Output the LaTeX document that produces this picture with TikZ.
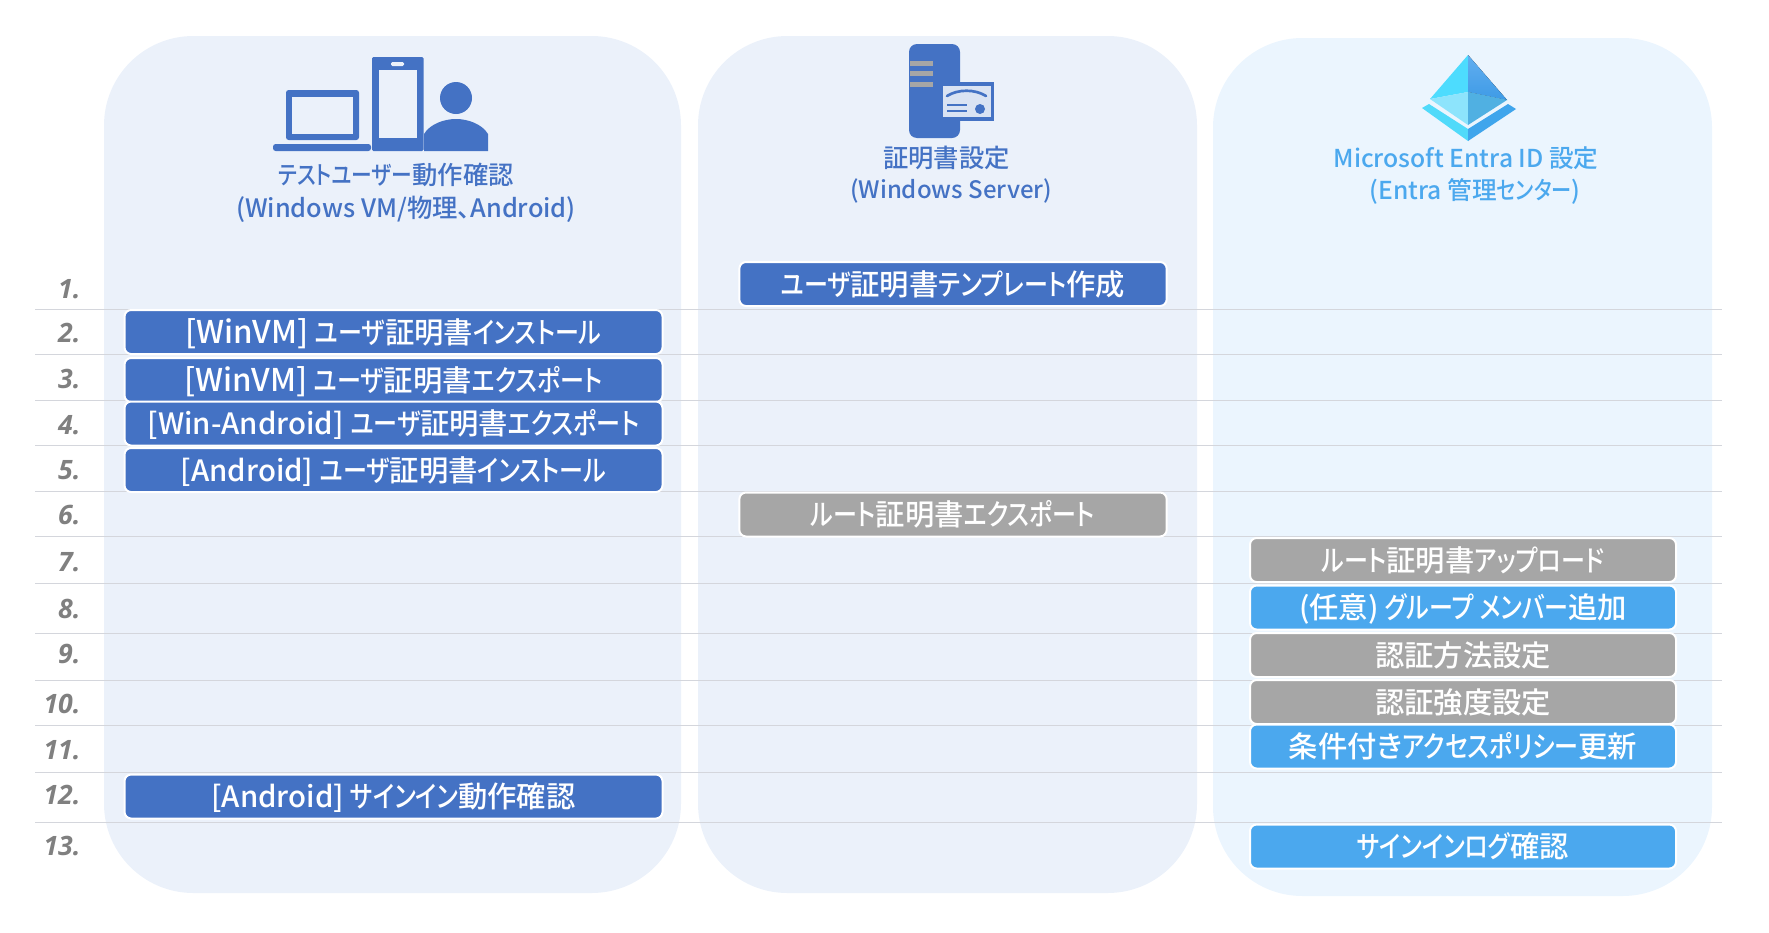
\documentclass[tikz,border=0pt]{standalone}
\usepackage{fontspec}
\setmainfont[RawFeature=+palt]{Noto Sans CJK JP Medium}
\newfontfamily\kanafont[RawFeature=+palt,FakeStretch=0.82]{Noto Sans CJK JP Medium}
\newfontfamily\numfont{Open Sans}
\newcommand{\kn}[1]{{\kanafont #1}}
\newcommand{\lat}[1]{{\fontsize{23.5}{26}\selectfont #1}}

\definecolor{panelblue}{HTML}{EBF1FA}
\definecolor{panelsky}{HTML}{EBF5FE}
\definecolor{serverblue}{HTML}{4472C4}
\definecolor{entrablue}{HTML}{4BA8EE}
\definecolor{stepgrey}{HTML}{A6A6A6}
\definecolor{rulegrey}{HTML}{D4D6DC}
\definecolor{certface}{HTML}{DAE3F3}
\definecolor{prismtl}{HTML}{4DDCFE}
\definecolor{prismtrup}{HTML}{62AEF0}
\definecolor{prismtrlow}{HTML}{3E9BE6}
\definecolor{prismll}{HTML}{8DE4FC}
\definecolor{prismlr}{HTML}{50B0E2}
\definecolor{prismbl}{HTML}{50DAFA}
\definecolor{prismbr}{HTML}{3FA5EC}

\tikzset{
panelbox/.style={rounded corners=67pt},
stepbox/.style={draw=white, line width=1.5pt, rounded corners=5pt, inner sep=0pt,
  minimum height=33pt, text height=19.4pt, text depth=2.6pt, text=white,
  font=\fontsize{22}{26}\selectfont},
userstep/.style={stepbox, fill=serverblue, minimum width=403.5pt},
certstep/.style={stepbox, fill=serverblue, minimum width=320.5pt},
rootstep/.style={stepbox, fill=stepgrey, minimum width=320.5pt},
greystep/.style={stepbox, fill=stepgrey, minimum width=319.5pt},
entrastep/.style={stepbox, fill=entrablue, minimum width=319.5pt},
headlabel/.style={inner sep=0pt, font=\fontsize{19}{23}\selectfont},
sublabel/.style={inner sep=0pt, font=\fontsize{18.5}{23}\selectfont},
numlabel/.style={anchor=east, inner sep=0pt, text=black!50, font=\numfont\bfseries\itshape\fontsize{20}{24}\selectfont}
}
\tikzset{every picture/.style={line width=0.75pt}}

\begin{document}
\begin{tikzpicture}[x=0.75pt,y=0.75pt,yscale=-1,xscale=1]

\useasboundingbox (0,0) rectangle (1769,932);

% PANELS

\fill [panelblue, panelbox] (104,36) rectangle (681,893);
\fill [panelblue, panelbox] (698,36) rectangle (1197,893);
\fill [panelsky, panelbox] (1213,38) rectangle (1712,896);

% RULES

\foreach \y in {309,354,400,445,491,536,583,633,680,725,772,822}{
    \draw [rulegrey] (35,\y) -- (1722,\y);
}

% NUMBERS

\foreach \n/\y in {1/289,2/333,3/379,4/425,5/470,6/515,7/562,8/609,9/654,10/704,11/750,12/795,13/846}{
    \node [numlabel] (num\n) at (81,\y) {\n.};
}

% STEPS

\node [certstep] (certtemplate) at (953,284) {\kn{ユーザ}証明書\kn{テンプレート}作成};
\node [userstep] (wininstall) at (393.5,332) {\lat{[WinVM]} \kn{ユーザ}証明書\kn{インストール}};
\node [userstep] (winexport) at (393.5,380) {\lat{[WinVM]} \kn{ユーザ}証明書\kn{エクスポート}};
\node [userstep] (androidexport) at (393.5,423.5) {[Win-Android] \kn{ユーザ}証明書\kn{エクスポート}};
\node [userstep] (androidinstall) at (393.5,470) {[Android] \kn{ユーザ}証明書\kn{インストール}};
\node [rootstep] (rootexport) at (953,514.5) {\kn{ルート}証明書\kn{エクスポート}};
\node [greystep] (rootupload) at (1463,560) {\kn{ルート}証明書\kn{アップロード}};
\node [entrastep] (groupadd) at (1463,607.5) {(任意) \kn{グループ メンバー}追加};
\node [greystep] (authmethod) at (1463,655) {認証方法設定};
\node [greystep] (authstrength) at (1463,702) {認証強度設定};
\node [entrastep] (capolicy) at (1463,746.5) {条件付き\kn{アクセスポリシー}更新};
\node [userstep] (androidsignin) at (393.5,796.5) {[Android] \kn{サインイン}動作確認};
\node [entrastep] (signinlog) at (1463,846.5) {\kn{サインインログ}確認};

% HEADINGS

\node [headlabel, text=serverblue] (userhead) at (396,175) {\kn{テストユーザー}動作確認};
\node [headlabel, text=serverblue] (usersub) at (406,209) {(Windows VM/物理、Android)};
\node [headlabel, text=serverblue] (certhead) at (946.5,158) {証明書設定};
\node [sublabel, text=serverblue, font=\fontsize{18}{23}\selectfont] (certsub) at (951,191) {(Windows Server)};
\node [sublabel, text=entrablue] (entrahead) at (1466,158) {Microsoft Entra ID 設定};
\node [sublabel, text=entrablue] (entrasub) at (1475,191) {(Entra 管理\kn{センター})};

% DEVICE ICON

\fill [serverblue, rounded corners=2pt] (286,90) rectangle (359,140);
\fill [panelblue] (292,97) rectangle (353,134);
\fill [serverblue, rounded corners=2pt] (273,144) rectangle (371,151);
\fill [serverblue, rounded corners=1pt] (372,57) rectangle (423.5,151);
\fill [panelblue] (379,70) rectangle (417,138);
\fill [panelblue, rounded corners=1pt] (391,62) rectangle (404,66);
\fill [serverblue] (456,98) circle [radius=16];
\fill [serverblue] (424,151) -- (424,134) .. controls (430,124) and (444,119) .. (456,119)
    .. controls (468,119) and (482,124) .. (488,134) -- (488,151) -- cycle;

% SERVER ICON

\fill [serverblue, rounded corners=6pt] (909,44) rectangle (960,138);
\foreach \y in {61,71,82}{
    \fill [stepgrey] (910,\y) rectangle (933,\y+5);
}
\fill [serverblue] (942,82) rectangle (994,121);
\fill [certface] (943,86) rectangle (991,117);
\draw [serverblue, line width=2pt, line cap=round] (947,96) .. controls (958,89) and (975,89) .. (986,96);
\draw [serverblue, line width=1.5pt] (947,105) -- (967,105);
\draw [serverblue, line width=1.5pt] (947,111) -- (967,111);
\fill [serverblue] (980,109) circle [radius=5];

% ENTRA ICON

\fill [prismtl] (1468,55) -- (1430,99) -- (1468,92) -- cycle;
\fill [top color=prismtrup, bottom color=prismtrlow] (1468,55) -- (1507,100) -- (1468,92) -- cycle;
\fill [prismll] (1430,99) -- (1468,92) -- (1468,125) -- cycle;
\fill [prismlr] (1507,100) -- (1468,92) -- (1468,125) -- cycle;
\fill [prismbl] (1422,108) -- (1429,104) -- (1468,129) -- (1468,141) -- cycle;
\fill [prismbr] (1516,109) -- (1508,104) -- (1468,129) -- (1468,141) -- cycle;

\end{tikzpicture}
\end{document}
